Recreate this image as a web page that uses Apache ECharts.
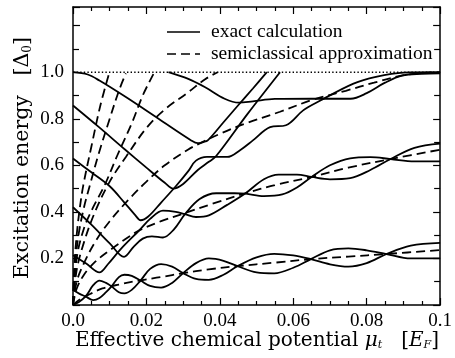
<!DOCTYPE html>
<html><head><meta charset="utf-8">
<script src="https://cdn.jsdelivr.net/npm/echarts@6/dist/echarts.min.js"></script>
<style>html,body{margin:0;padding:0;background:#fff}#c{width:455px;height:358px}</style>
</head><body><div id="c"></div>
<script>
// x tick labels / y tick labels
const xTickLabels = ['0.0','0.02','0.04','0.06','0.08','0.1'];
const yTickLabels = ['0.2','0.4','0.6','0.8','1.0'];
const legendNames = ['exact calculation','semiclassical approximation'];

// semiclassical approximation (dashed), [mu, E]
const semi1 = [[0,0],[0.002,0.025],[0.005,0.05],[0.008,0.071],[0.0125,0.088],[0.018,0.105],[0.024,0.12],[0.030,0.137],[0.037,0.153],[0.0448,0.167],[0.055,0.182],[0.0648,0.197],[0.075,0.208],[0.0854,0.219],[0.1,0.236]];
const semi2 = [[0,0],[0.001,0.07],[0.003,0.13],[0.006,0.185],[0.01,0.235],[0.014,0.28],[0.018,0.32],[0.024,0.36],[0.0305,0.395],[0.038,0.435],[0.047,0.48],[0.055,0.515],[0.065,0.55],[0.075,0.59],[0.0865,0.627],[0.1,0.667]];
const semi3 = [[0,0],[0.001,0.1],[0.003,0.18],[0.006,0.27],[0.01,0.36],[0.015,0.45],[0.02,0.53],[0.025,0.6],[0.0314,0.668],[0.034,0.69],[0.04,0.735],[0.047,0.78],[0.0564,0.83],[0.065,0.88],[0.0743,0.92],[0.082,0.955],[0.0912,0.99],[0.1,1.0]];
const semi4 = [[0,0],[0.001,0.15],[0.003,0.27],[0.006,0.4],[0.01,0.53],[0.0144,0.636],[0.02,0.76],[0.025,0.84],[0.0314,0.914],[0.036,0.97],[0.0394,1.0]];
const semi5 = [[0,0],[0.001,0.2],[0.003,0.33],[0.0055,0.42],[0.0086,0.514],[0.012,0.64],[0.016,0.78],[0.019,0.9],[0.022,0.995]];
const semi6 = [[0,0],[0.0005,0.16],[0.0015,0.3],[0.003,0.42],[0.0046,0.514],[0.007,0.65],[0.01,0.8],[0.0125,0.92],[0.0144,0.995]];
const semi7 = [[0,0],[0.0003,0.15],[0.001,0.3],[0.0018,0.41],[0.0028,0.514],[0.005,0.68],[0.0075,0.86],[0.0099,0.998]];

// exact calculation (solid)
const exact1 = [[0,0],[0.0015,0.012],[0.0035,0.038],[0.0055,0.085],[0.0072,0.105],[0.009,0.095],[0.0105,0.08],[0.0125,0.055],[0.014,0.05],[0.016,0.065],[0.0184,0.105],[0.021,0.155],[0.024,0.176],[0.027,0.165],[0.030,0.137],[0.0335,0.112],[0.037,0.108],[0.041,0.13],[0.0448,0.167],[0.05,0.205],[0.0548,0.22],[0.06,0.213],[0.0648,0.197],[0.07,0.175],[0.075,0.165],[0.08,0.18],[0.0854,0.219],[0.092,0.255],[0.1,0.267]];
const exact2 = [[0,0.064],[0.0018,0.048],[0.0035,0.036],[0.0055,0.021],[0.0072,0.03],[0.009,0.055],[0.0105,0.08],[0.0125,0.12],[0.014,0.13],[0.016,0.125],[0.0184,0.105],[0.021,0.082],[0.024,0.075],[0.027,0.095],[0.030,0.137],[0.0335,0.18],[0.037,0.2],[0.041,0.19],[0.0448,0.167],[0.05,0.14],[0.0548,0.136],[0.06,0.16],[0.0648,0.197],[0.07,0.235],[0.075,0.243],[0.08,0.235],[0.0854,0.219],[0.092,0.2],[0.1,0.2]];
const exact3 = [[0,0.214],[0.0036,0.178],[0.0072,0.14],[0.0095,0.175],[0.013,0.24],[0.018,0.32],[0.021,0.37],[0.0245,0.405],[0.028,0.4],[0.0305,0.39],[0.0335,0.378],[0.037,0.385],[0.042,0.43],[0.047,0.48],[0.052,0.54],[0.056,0.56],[0.061,0.56],[0.065,0.55],[0.07,0.54],[0.0755,0.545],[0.081,0.58],[0.0865,0.627],[0.093,0.675],[0.1,0.693]];
const exact4 = [[0,0.42],[0.005,0.345],[0.01,0.265],[0.0139,0.207],[0.0165,0.25],[0.019,0.285],[0.0215,0.295],[0.0245,0.29],[0.0275,0.325],[0.0305,0.39],[0.0345,0.455],[0.039,0.48],[0.044,0.48],[0.047,0.478],[0.052,0.468],[0.057,0.475],[0.061,0.505],[0.065,0.55],[0.07,0.6],[0.0755,0.63],[0.081,0.635],[0.0865,0.627],[0.093,0.617],[0.1,0.617]];
const exact5 = [[0,0.629],[0.005,0.57],[0.01,0.51],[0.014,0.44],[0.017,0.385],[0.0184,0.364],[0.0205,0.38],[0.024,0.44],[0.028,0.51],[0.0314,0.575],[0.0335,0.62],[0.0365,0.636],[0.042,0.636],[0.0455,0.665],[0.049,0.707],[0.0537,0.764],[0.058,0.772],[0.0627,0.836],[0.067,0.875],[0.0764,0.951],[0.0825,0.98],[0.09,0.998],[0.1,1.0]];
const exact6 = [[0,0.857],[0.007,0.765],[0.014,0.67],[0.02,0.59],[0.025,0.525],[0.0273,0.5],[0.03,0.52],[0.034,0.58],[0.037,0.615],[0.039,0.64],[0.0475,0.82],[0.0564,1.0]];
const exact7 = [[0,1.0],[0.004,0.99],[0.0072,0.964],[0.0144,0.893],[0.0233,0.80],[0.0322,0.707],[0.034,0.695],[0.0355,0.7],[0.0367,0.707],[0.041,0.785],[0.045,0.858],[0.049,0.93],[0.0528,1.0]];
const exact8 = [[0.026,1.0],[0.0314,0.971],[0.036,0.935],[0.0413,0.886],[0.0452,0.869],[0.049,0.875],[0.055,0.885],[0.065,0.886],[0.0756,0.886],[0.08,0.91],[0.085,0.955],[0.0898,0.986],[0.095,0.993],[0.1,0.995]];

// gap edge (dotted)
const gapLine = [[0,1.0],[0.1,1.0]];

const exactSets = [exact1,exact2,exact3,exact4,exact5,exact6,exact7,exact8];
const semiSets = [semi1,semi2,semi3,semi4,semi5,semi6,semi7];

const chart = echarts.init(document.getElementById('c'));
const FONT = '"Liberation Serif","DejaVu Serif",serif';
const TFONT = '"DejaVu Serif",serif';
const series = [];
series.push({type:'line',data:gapLine,symbol:'none',silent:true,lineStyle:{color:'#000',width:1.6,type:[1.4,2.2]}});
semiSets.forEach(d=>series.push({name:legendNames[1],type:'line',data:d,symbol:'none',smooth:0.35,silent:true,lineStyle:{color:'#000',width:1.8,type:[9,5]}}));
exactSets.forEach(d=>series.push({name:legendNames[0],type:'line',data:d,symbol:'none',smooth:0.35,silent:true,lineStyle:{color:'#000',width:1.8}}));

const tickFmtX = v => { const i = Math.round(v/0.02); return Math.abs(v - i*0.02) < 1e-9 ? xTickLabels[i] : ''; };
const tickFmtY = v => { const i = Math.round(v/0.2); if (Math.abs(v-i*0.2)>1e-9) return ''; return (i>=1 && i<=5) ? yTickLabels[i-1] : ''; };
const axisCommon = {
  axisLine:{show:true,onZero:false,lineStyle:{color:'#000',width:1.5}},
  splitLine:{show:false}
};
chart.setOption({
  animation:false,
  grid:{left:73,right:9,top:7,bottom:53},
  xAxis:[
    Object.assign({type:'value',min:0,max:0.1,interval:0.02,position:'bottom',
      axisTick:{inside:true,length:7,lineStyle:{color:'#000',width:1.2}},
      minorTick:{show:true,splitNumber:4,length:4,lineStyle:{color:'#000',width:1.2}},
      axisLabel:{formatter:tickFmtX,color:'#000',fontFamily:FONT,fontSize:19,margin:7}},axisCommon),
    Object.assign({type:'value',min:0,max:0.1,interval:0.02,position:'top',
      axisTick:{inside:true,length:7,lineStyle:{color:'#000',width:1.2}},
      minorTick:{show:true,splitNumber:4,length:4,lineStyle:{color:'#000',width:1.2}},
      axisLabel:{show:false}},axisCommon)
  ],
  yAxis:[
    Object.assign({type:'value',min:0,max:1.28,interval:0.2,position:'left',
      axisTick:{inside:true,length:7,lineStyle:{color:'#000',width:1.2}},
      minorTick:{show:true,splitNumber:2,length:6,lineStyle:{color:'#000',width:1.2}},
      axisLabel:{formatter:tickFmtY,color:'#000',fontFamily:FONT,fontSize:19,margin:9,showMaxLabel:false}},axisCommon),
    Object.assign({type:'value',min:0,max:1.28,interval:0.2,position:'right',
      axisTick:{inside:true,length:7,lineStyle:{color:'#000',width:1.2}},
      minorTick:{show:true,splitNumber:2,length:6,lineStyle:{color:'#000',width:1.2}},
      axisLabel:{show:false}},axisCommon)
  ],
  series:series,
  graphic:[
    {type:'line',shape:{x1:167,y1:32,x2:200,y2:32},style:{stroke:'#000',lineWidth:1.6}},
    {type:'text',x:211,y:32,style:{text:legendNames[0],font:'19.5px '+FONT,fill:'#000',textVerticalAlign:'middle'}},
    {type:'line',shape:{x1:167,y1:54,x2:200,y2:54},style:{stroke:'#000',lineWidth:1.6,lineDash:[9,5]}},
    {type:'text',x:211,y:54,style:{text:legendNames[1],font:'19.5px '+FONT,fill:'#000',textVerticalAlign:'middle'}},
    {type:'text',x:257,y:341,style:{
      text:'{n|Effective chemical potential }{i|μ}{s|t}{n|   [}{i|E}{s|F}{n|]}',
      textAlign:'center',textVerticalAlign:'middle',
      rich:{n:{fontFamily:TFONT,fontSize:20,fill:'#000'},i:{fontFamily:TFONT,fontSize:20,fontStyle:'italic',fill:'#000'},s:{fontFamily:TFONT,fontSize:11,fontStyle:'italic',fill:'#000',verticalAlign:'bottom',padding:[8,0,0,0]}}}},
    {type:'text',x:23,y:158,rotation:Math.PI/2,style:{
      text:'{n|Excitation energy   [Δ}{s|0}{n|]}',
      textAlign:'center',textVerticalAlign:'middle',
      rich:{n:{fontFamily:TFONT,fontSize:20.5,fill:'#000'},s:{fontFamily:TFONT,fontSize:12,fill:'#000',verticalAlign:'bottom',padding:[8,0,0,0]}}}}
  ]
});
</script></body></html>
